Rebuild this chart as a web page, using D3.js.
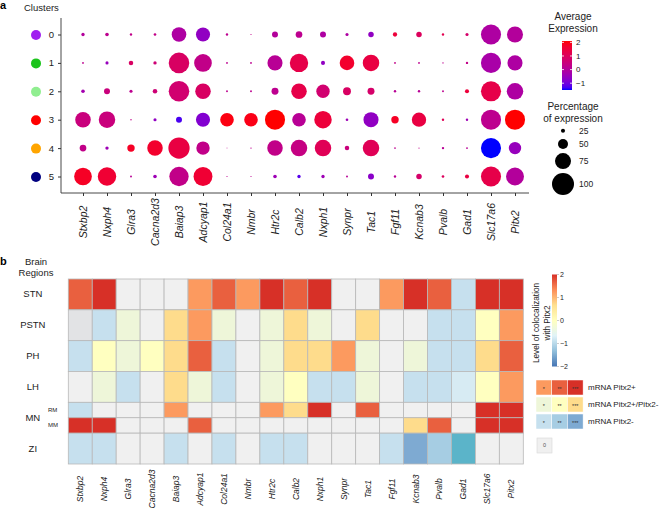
<!DOCTYPE html>
<html><head><meta charset="utf-8">
<script src="https://cdn.jsdelivr.net/npm/d3@7"></script>
<style>body{margin:0;background:#fff} svg{font-family:"Liberation Sans",Arial,sans-serif}</style>
</head><body><svg id="c" width="659" height="509"></svg>
<script>
// ---------- DATA ----------
const genes = ["Stxbp2","Nxph4","Glra3","Cacna2d3","Baiap3","Adcyap1","Col24a1","Nmbr","Htr2c","Calb2","Nxph1","Synpr","Tac1","Fgf11","Kcnab3","Pvalb","Gad1","Slc17a6","Pitx2"];
const clusters = ["0","1","2","3","4","5"];
// percentage of expression, rows = clusters
const pctExpr = [
 [22,23,18,19,69,67,18,13,33,36,33,21,31,26,31,18,21,92,75],
 [16,21,27,22,94,82,16,16,71,85,25,69,77,16,16,14,18,92,71],
 [23,33,21,27,94,73,16,16,37,73,64,41,37,18,18,16,25,92,77],
 [73,77,14,21,33,67,65,65,92,65,81,19,71,39,68,18,18,92,92],
 [36,22,39,73,97,64,12,14,73,77,77,27,77,15,13,18,16,92,60],
 [82,85,16,23,89,87,13,13,23,22,22,16,33,18,31,19,25,92,83]
];
// average scaled expression, rows = clusters
const avgExpr = [
 [0.0,0.2,0.3,0.3,-0.1,-0.6,0.2,0.3,0.0,0.2,-0.1,-0.1,-0.6,1.5,1.0,1.2,0.8,-0.1,0.0],
 [0.2,-0.5,0.9,0.6,0.9,0.3,0.2,0.2,0.1,1.3,-0.6,1.7,1.4,0.3,0.2,0.2,0.3,-0.2,-0.1],
 [-0.3,0.5,0.2,0.6,0.7,0.9,0.2,0.2,0.2,1.3,0.7,0.9,0.8,0.1,0.1,0.2,1.5,1.3,-0.1],
 [0.5,0.5,0.3,-0.6,-1.3,-0.8,2.0,1.95,2.1,0.1,1.5,-0.4,-0.6,1.8,1.4,1.1,-0.4,0.2,2.1],
 [0.3,-0.4,1.8,1.7,1.4,0.3,0.2,0.2,0.3,0.4,1.1,0.5,1.1,0.2,0.3,0.1,0.1,-1.5,-0.5],
 [1.8,1.6,0.1,-0.4,0.3,1.6,0.2,0.2,-0.4,-1.2,-0.4,0.1,-0.7,0.1,0.8,1.0,1.4,1.3,0.0]
];
const sizeBreaks = [25,50,75,100];
const expTicks = [-1,0,1,2];

const regions = ["STN","PSTN","PH","LH","MN","ZI"];
const mnSub = ["RM","MM"];
const rowKeys = ["STN","PSTN","PH","LH","RM","MM","ZI"];
// colocalization class per region row x gene
// P = mRNA Pitx2+, B = Pitx2+/Pitx2-, N = Pitx2-, digit = number of stars, 0 = none
const coloc = [
 ["P2","P3","0","0","0","P1","P2","P1","P3","P2","P3","0","0","P1","P3","P2","N1","P3","P3"],
 ["Z","N1","B1","0","B3","P1","B1","0","B1","B3","B1","0","B3","0","0","N1","N1","B2","P1"],
 ["N1","B2","B1","B2","B3","P2","N1","0","B1","B3","B3","P1","B1","0","B1","N1","N1","B3","P2"],
 ["0","B1","N1","0","B3","B1","N1","0","B1","B2","N1","N1","B1","0","N1","N1","N0","B2","P1"],
 ["N1","0","0","0","P1","0","0","0","P1","B3","P3","0","P2","0","0","0","0","P3","P3"],
 ["P3","P3","0","0","0","P2","0","0","0","0","0","0","0","0","B3","P2","0","P3","P3"],
 ["N1","N1","0","0","N1","0","N1","0","N1","N1","0","0","0","N1","N3","N2","T","0","0"]
];
const colocTicks = [-2,-1,0,1,2];
const legendRows = ["mRNA Pitx2+","mRNA Pitx2+/Pitx2-","mRNA Pitx2-"];
const legendCodes = [["P1","P2","P3"],["B1","B2","B3"],["N1","N2","N3"]];
const legendStars = ["*","**","***"];

// ---------- STYLE ----------
const clusterColors = ["#a020f0","#1cc41c","#90ee90","#ff0000","#ffa500","#000080"];
const classCodes  = ["P3","P2","P1","B3","B2","B1","N1","N2","N3","N0","T","0","Z"];
const classColors = ["#d73027","#e9603f","#fc9a5f","#fedc8c","#ffffc0","#eef6d9","#c6e0ee","#a6cde3","#7eaad2","#d7ebf3","#5bb4c9","#f0f0f0","#e2e3e5"];
const rampColors = ["#4575b4","#91bfdb","#e0f3f8","#ffffbf","#fee090","#fc8d59","#d73027"];
const txt = "#222";

const svg = d3.select("#c");
const defs = svg.append("defs");

// ---------- PANEL A ----------
svg.append("text").attr("x",0).attr("y",9).attr("font-size",11).attr("font-weight","bold").attr("fill","#000").text("a");
svg.append("text").attr("x",24).attr("y",11).attr("font-size",9.5).attr("fill",txt).text("Clusters");

const x = d3.scalePoint().domain(genes).range([83,515]);
const y = d3.scalePoint().domain(clusters).range([34.5,176.5]);
const r = d3.scaleLinear().domain([8,100]).range([0,11]).clamp(true);
const allAvg = avgExpr.flat();
const ext = d3.extent(allAvg);
const col = d3.scaleLinear().domain(ext).range(["blue","red"]).interpolate(d3.interpolateLab);

const dots = [];
clusters.forEach((c,i)=>genes.forEach((g,j)=>dots.push({c,g,p:pctExpr[i][j],v:avgExpr[i][j]})));
svg.append("g").selectAll("circle").data(dots).join("circle")
  .attr("cx",d=>x(d.g)).attr("cy",d=>y(d.c)).attr("r",d=>r(d.p)).attr("fill",d=>col(d.v));

// axis lines
const axA = svg.append("g").attr("stroke","#333").attr("stroke-width",0.9);
axA.append("line").attr("x1",61).attr("x2",529).attr("y1",193).attr("y2",193);
axA.append("line").attr("x1",61).attr("x2",61).attr("y1",18).attr("y2",193);

const gxA = svg.append("g").attr("transform","translate(0,193)")
  .call(d3.axisBottom(x).tickSize(3).tickSizeOuter(0));
gxA.select(".domain").remove();
gxA.selectAll("line").attr("stroke","#333");
gxA.selectAll("text").attr("y",0).attr("dy","0.35em").attr("x",0)
  .attr("transform","translate(0,29) rotate(-90)").style("text-anchor","middle")
  .attr("font-size",10.5).attr("font-style","italic").attr("fill",txt).attr("font-family","Liberation Sans, Arial, sans-serif");

const gyA = svg.append("g").attr("transform","translate(61,0)")
  .call(d3.axisLeft(y).tickSize(3).tickPadding(4));
gyA.select(".domain").remove();
gyA.selectAll("line").attr("stroke","#333");
gyA.selectAll("text").attr("font-size",9.5).attr("fill",txt).attr("font-family","Liberation Sans, Arial, sans-serif");
gyA.selectAll(".tick").append("circle").attr("cx",-25).attr("r",5).attr("fill",(d,i)=>clusterColors[i]);

// colorbar A
const ycA = d3.scaleLinear().domain(ext).range([90,41]);
const gradA = defs.append("linearGradient").attr("id","gA").attr("x1",0).attr("x2",0).attr("y1",1).attr("y2",0);
d3.range(0,1.0001,0.05).forEach(t=>gradA.append("stop").attr("offset",t).attr("stop-color",col(ext[0]+t*(ext[1]-ext[0]))));
svg.append("text").attr("x",573).attr("y",20).attr("text-anchor","middle").attr("font-size",10).attr("fill",txt).text("Average");
svg.append("text").attr("x",573).attr("y",32).attr("text-anchor","middle").attr("font-size",10).attr("fill",txt).text("Expression");
svg.append("rect").attr("x",562).attr("y",ycA(ext[1])).attr("width",10).attr("height",ycA(ext[0])-ycA(ext[1])).attr("fill","url(#gA)");
const tA = svg.append("g");
expTicks.forEach(v=>{
  tA.append("line").attr("x1",562).attr("x2",564).attr("y1",ycA(v)).attr("y2",ycA(v)).attr("stroke","#fff").attr("stroke-width",0.8);
  tA.append("line").attr("x1",570).attr("x2",572).attr("y1",ycA(v)).attr("y2",ycA(v)).attr("stroke","#fff").attr("stroke-width",0.8);
  tA.append("text").attr("x",576).attr("y",ycA(v)).attr("dy","0.35em").attr("font-size",8).attr("fill",txt).text(String(v).replace("-","\u2212"));
});

// size legend
svg.append("text").attr("x",573).attr("y",110).attr("text-anchor","middle").attr("font-size",10).attr("fill",txt).text("Percentage");
svg.append("text").attr("x",573).attr("y",122).attr("text-anchor","middle").attr("font-size",10).attr("fill",txt).text("of expression");
let cy = 124.4;
sizeBreaks.forEach(b=>{
  const h = Math.max(12.6, 2*r(b)+4);
  const c = cy + h/2;
  svg.append("circle").attr("cx",563).attr("cy",c).attr("r",r(b)).attr("fill","#000");
  svg.append("text").attr("x",579).attr("y",c).attr("dy","0.35em").attr("font-size",8.5).attr("fill",txt).text(b);
  cy += h;
});

// ---------- PANEL B ----------
svg.append("text").attr("x",0).attr("y",265).attr("font-size",11).attr("font-weight","bold").attr("fill","#000").text("b");
svg.append("text").attr("x",36).attr("y",265).attr("text-anchor","middle").attr("font-size",9.5).attr("fill",txt).text("Brain");
svg.append("text").attr("x",36).attr("y",276).attr("text-anchor","middle").attr("font-size",9.5).attr("fill",txt).text("Regions");

const xb = d3.scaleBand().domain(genes).range([68.3,523.3]);
const yb = d3.scaleBand().domain(regions).range([279,464]);
const ys = d3.scaleBand().domain(mnSub).range([yb("MN"), yb("MN")+yb.bandwidth()]);
const fill = d3.scaleOrdinal().domain(classCodes).range(classColors);
function rowBox(k){
  if (mnSub.includes(k)) return [ys(k), ys.bandwidth()];
  return [yb(k), yb.bandwidth()];
}
const cells = [];
rowKeys.forEach((k,i)=>genes.forEach((g,j)=>cells.push({k,g,c:coloc[i][j]})));
svg.append("g").selectAll("rect").data(cells).join("rect")
  .attr("x",d=>xb(d.g)).attr("y",d=>rowBox(d.k)[0]).attr("width",xb.bandwidth()).attr("height",d=>rowBox(d.k)[1])
  .attr("fill",d=>fill(d.c)).attr("stroke","#b8b8b8").attr("stroke-width",0.8);

const gyB = svg.append("g").attr("transform","translate(68.3,0)").call(d3.axisLeft(yb).tickSize(0));
gyB.select(".domain").remove();
gyB.selectAll("text").attr("x",-35.5).style("text-anchor","middle").attr("font-size",9.5).attr("fill",txt).attr("font-family","Liberation Sans, Arial, sans-serif");
const gyS = svg.append("g").attr("transform","translate(48,0)").call(d3.axisRight(ys).tickSize(0).tickPadding(0));
gyS.select(".domain").remove();
gyS.selectAll("text").attr("font-size",6).attr("fill",txt).attr("font-family","Liberation Sans, Arial, sans-serif");

const gxB = svg.append("g").attr("transform","translate(0,464)").call(d3.axisBottom(xb).tickSize(0));
gxB.select(".domain").remove();
gxB.selectAll("text").attr("y",0).attr("dy","0.35em").attr("x",0)
  .attr("transform","translate(0,25) rotate(-90)").style("text-anchor","middle")
  .attr("font-size",8.5).attr("font-style","italic").attr("fill",txt).attr("font-family","Liberation Sans, Arial, sans-serif");

// colorbar B
const ycB = d3.scaleLinear().domain([-2,2]).range([366.5,274.5]);
const gradB = defs.append("linearGradient").attr("id","gB").attr("x1",0).attr("x2",0).attr("y1",1).attr("y2",0);
rampColors.forEach((c,i)=>gradB.append("stop").attr("offset",i/(rampColors.length-1)).attr("stop-color",c));
svg.append("rect").attr("x",552).attr("y",ycB(2)).attr("width",5).attr("height",ycB(-2)-ycB(2)).attr("fill","url(#gB)");
colocTicks.forEach(v=>{
  svg.append("line").attr("x1",557).attr("x2",559).attr("y1",ycB(v)).attr("y2",ycB(v)).attr("stroke","#999").attr("stroke-width",0.5);
  svg.append("text").attr("x",560).attr("y",ycB(v)).attr("dy","0.35em").attr("font-size",7).attr("fill",txt).text(String(v).replace("-","\u2212"));
});
svg.append("text").attr("transform","translate(538.5,323) rotate(-90)").attr("text-anchor","middle").attr("font-size",8.2).attr("fill",txt).text("Level of colocalization");
svg.append("text").attr("transform","translate(549.5,323) rotate(-90)").attr("text-anchor","middle").attr("font-size",8.2).attr("fill",txt).text("with Pitx2");

// class legend
legendRows.forEach((lab,i)=>{
  const y0 = 380 + i*17;
  legendCodes[i].forEach((c,j)=>{
    svg.append("rect").attr("x",536+j*15.7).attr("y",y0).attr("width",15.7).attr("height",15)
      .attr("fill",fill(c)).attr("stroke","#fff").attr("stroke-width",0.5);
    svg.append("text").attr("x",536+j*15.7+7.85).attr("y",y0+7.5).attr("dy","0.55em").attr("text-anchor","middle")
      .attr("font-size",5.5).attr("fill","#333").text(legendStars[j]);
  });
  svg.append("text").attr("x",588).attr("y",y0+7.5).attr("dy","0.35em").attr("font-size",8).attr("fill",txt).text(lab);
});
svg.append("rect").attr("x",537).attr("y",438).attr("width",15).attr("height",15).attr("fill",fill("0")).attr("stroke","#d8d8d8").attr("stroke-width",0.6);
svg.append("text").attr("x",544.5).attr("y",445.5).attr("dy","0.35em").attr("text-anchor","middle").attr("font-size",5.5).attr("fill","#555").text("0");
</script></body></html>
